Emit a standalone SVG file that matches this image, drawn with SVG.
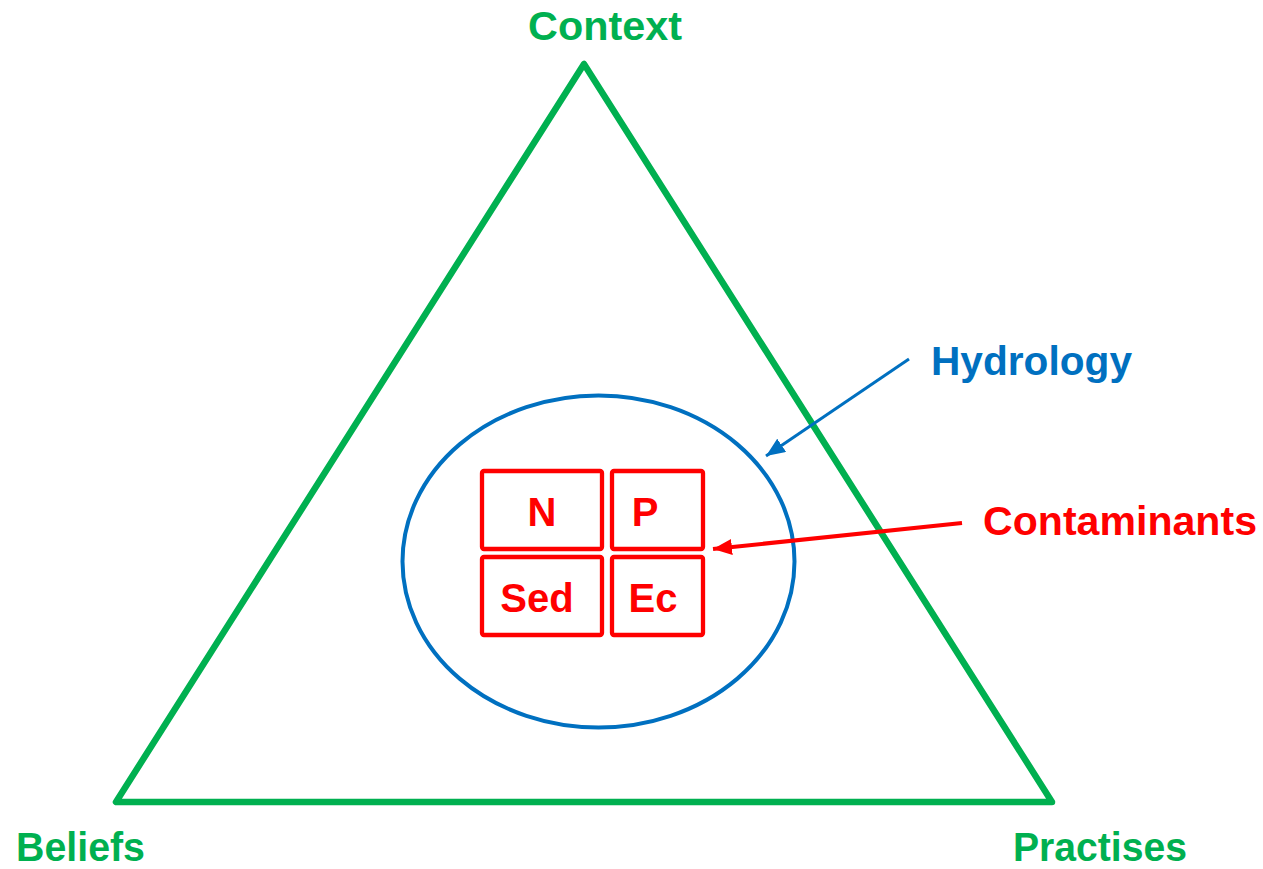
<svg xmlns="http://www.w3.org/2000/svg" width="1263" height="869" viewBox="0 0 1263 869">
  <style>
    text { font-family: "Liberation Sans", Arial, sans-serif; font-weight: bold; font-size: 41px; }
    .g { fill: #00B050; }
    .b { fill: #0070C0; }
    .r { fill: #FF0000; }
    .box { fill: none; stroke: #FF0000; stroke-width: 4.3; }
    .boxt { font-size: 40px; fill: #FF0000; text-anchor: middle; }
  </style>
  <defs>
    <marker id="ab" markerUnits="userSpaceOnUse" markerWidth="20" markerHeight="16" refX="19" refY="8" orient="auto">
      <path d="M0,0 L19,8 L0,16 Z" fill="#0070C0"/>
    </marker>
    <marker id="ar" markerUnits="userSpaceOnUse" markerWidth="20" markerHeight="16" refX="19" refY="8" orient="auto">
      <path d="M0,0 L19,8 L0,16 Z" fill="#FF0000"/>
    </marker>
  </defs>
  <rect width="1263" height="869" fill="#FFFFFF"/>
  <g id="triangle">
    <polygon points="584,64 116,802 1052,802" fill="none" stroke="#00B050" stroke-width="6.5" stroke-linejoin="round"/>
  </g>
  <g id="context"><text class="g" x="528" y="40" textLength="154" lengthAdjust="spacingAndGlyphs">Context</text></g>
  <g id="beliefs"><text class="g" x="16" y="861" textLength="129" lengthAdjust="spacingAndGlyphs">Beliefs</text></g>
  <g id="practises"><text class="g" x="1013" y="861" textLength="174" lengthAdjust="spacingAndGlyphs">Practises</text></g>
  <g id="hydrology-ellipse">
    <ellipse cx="598.5" cy="561.5" rx="196" ry="166" fill="none" stroke="#0070C0" stroke-width="4"/>
  </g>
  <g id="hydrology-label"><text class="b" x="931" y="375" textLength="201" lengthAdjust="spacingAndGlyphs">Hydrology</text></g>
  <g id="contaminants-label"><text class="r" x="983" y="535" textLength="274" lengthAdjust="spacingAndGlyphs">Contaminants</text></g>
  <g id="box-N">
    <rect class="box" x="482" y="471" width="120" height="78" rx="2"/>
    <text class="boxt" x="542" y="526">N</text>
  </g>
  <g id="box-P">
    <rect class="box" x="612" y="471" width="91" height="78" rx="2"/>
    <text class="boxt" x="645" y="526">P</text>
  </g>
  <g id="box-Sed">
    <rect class="box" x="482" y="557" width="120" height="78" rx="2"/>
    <text class="boxt" x="537" y="612">Sed</text>
  </g>
  <g id="box-Ec">
    <rect class="box" x="612" y="557" width="91" height="78" rx="2"/>
    <text class="boxt" x="653" y="612">Ec</text>
  </g>
  <g id="connectors">
    <line x1="909" y1="359" x2="766" y2="456" stroke="#0070C0" stroke-width="3" marker-end="url(#ab)"/>
    <line x1="962" y1="523" x2="713" y2="549" stroke="#FF0000" stroke-width="4" marker-end="url(#ar)"/>
  </g>
</svg>
